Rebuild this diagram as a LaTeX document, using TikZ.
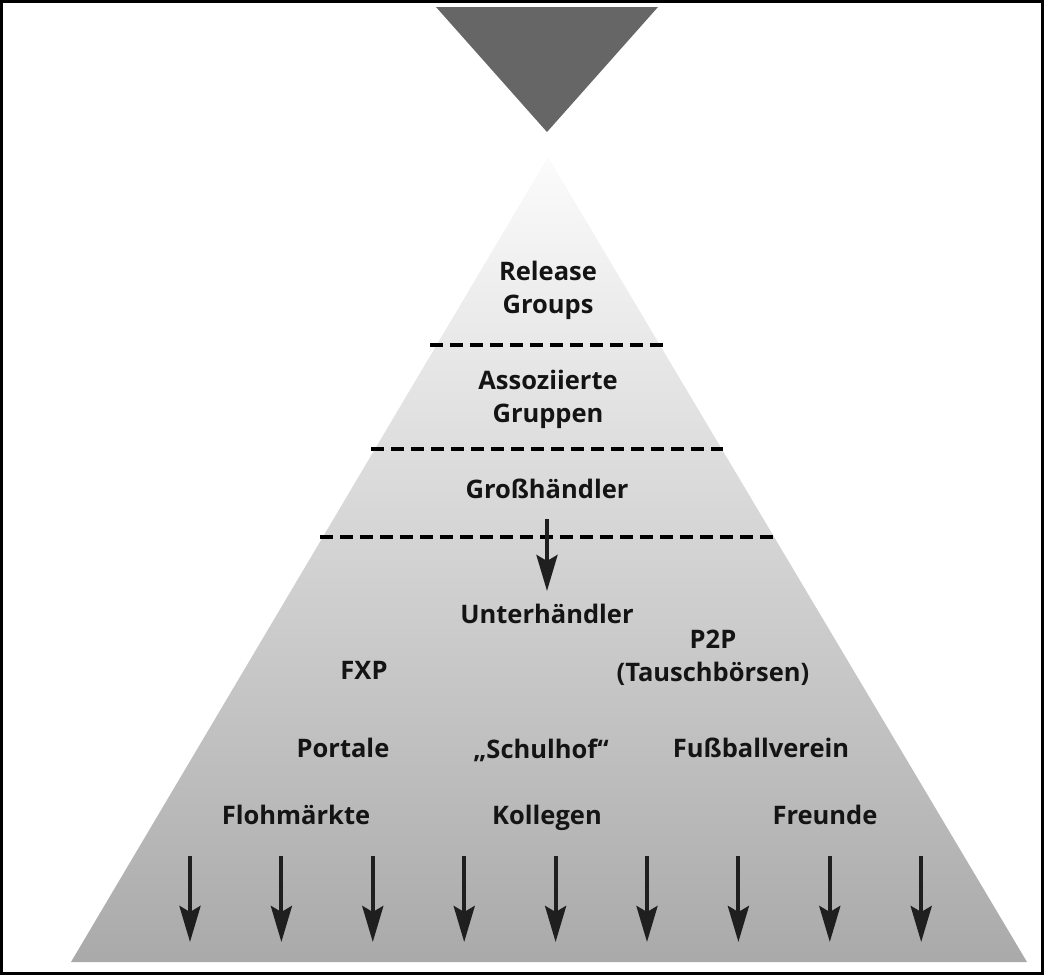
\documentclass[tikz,border=0pt]{standalone}
\usepackage{fontspec}
\setmainfont{Open Sans}
\usepackage{tikz}
\usetikzlibrary{arrows.meta}
\tikzset{
  pyrpicture/.style={x=1pt, y=-1pt},
  pyrlabel/.style={font=\fontsize{25.5}{33}\selectfont\bfseries, align=center, inner sep=2pt, text=black!92},
  pyrdash/.style={line width=4pt, dash pattern=on 13pt off 7pt},
  pyrarrow/.style={-{Stealth[length=36pt, width=21pt, inset=6pt]}, line width=4pt, black!88}
}

\begin{document}
\begin{tikzpicture}[pyrpicture]
\useasboundingbox (0,0) rectangle (1044,975);
\draw[line width=3pt] (1.5,1.5) rectangle (1042.5,973.5);
% source on top
\fill[black!60] (436,7) -- (658,7) -- (547,132) -- cycle;
% pyramid
\coordinate (apex) at (548,157);
\coordinate (baseleft) at (71,962);
\coordinate (baseright) at (1027,962);
\shade[top color=gray!3, bottom color=gray!67] (apex) -- (baseright) -- (baseleft) -- cycle;
\draw[pyrdash] (430,345) -- (664,345);
\draw[pyrdash] (371,449) -- (723,449);
\draw[pyrdash] (320,537) -- (777,537);
% labels
\node[pyrlabel] (release) at (548,290) {Release\\Groups};
\node[pyrlabel] (assoz) at (548,399) {Assoziierte\\Gruppen};
\node[pyrlabel] (gross) at (547,489) {Großhändler};
\node[pyrlabel] (unter) at (547,614) {Unterhändler};
\node[pyrlabel] (ptwop) at (713,658) {P2P\\(Tauschbörsen)};
\node[pyrlabel] (fxp) at (364,670) {FXP};
\node[pyrlabel] (portale) at (343,748) {Portale};
\node[pyrlabel] (schulhof) at (541,750) {„Schulhof“};
\node[pyrlabel] (fussball) at (761,748) {Fußballverein};
\node[pyrlabel] (floh) at (296,815) {Flohmärkte};
\node[pyrlabel] (kollegen) at (547,818) {Kollegen};
\node[pyrlabel] (freunde) at (825,815) {Freunde};
\draw[pyrarrow, shorten <=18pt, shorten >=11pt] (gross) -- (unter);
% spreading down
\foreach \i in {0,...,8} {
  \coordinate (flowtop\i) at (190+91.4*\i,856);
  \coordinate (flowend\i) at (190+91.4*\i,942);
  \draw[pyrarrow] (flowtop\i) -- (flowend\i);
}
\end{tikzpicture}
\end{document}
